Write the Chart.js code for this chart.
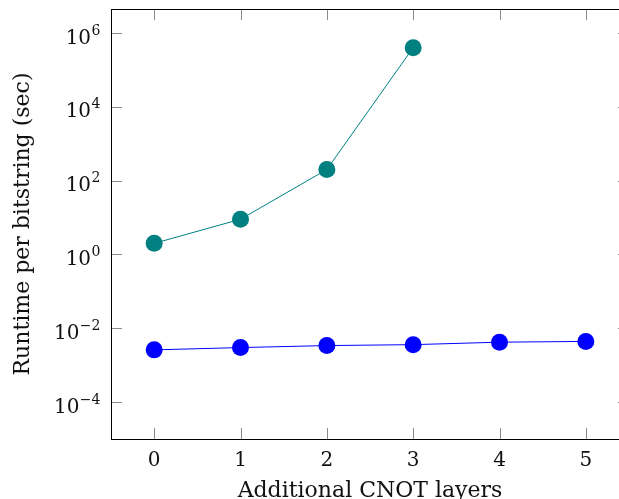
<!DOCTYPE html>
<html>
<head>
<meta charset="utf-8">
<script src="https://cdn.jsdelivr.net/npm/chart.js@4.4.0/dist/chart.umd.min.js"></script>
<style>
  html, body { margin: 0; padding: 0; overflow: hidden; background: #fff; }
  #wrap { position: absolute; left: 0; top: 0; width: 640px; height: 510px; }
</style>
</head>
<body>
<div id="wrap"><canvas id="runtimeChart" width="640" height="510"></canvas></div>
<script>
// Data
const layers = [0, 1, 2, 3, 4, 5];
const tealRuntime = [2.0, 9.0, 200, 4.0e5];
const blueRuntime = [2.6e-3, 3.0e-3, 3.4e-3, 3.6e-3, 4.2e-3, 4.4e-3];
const xTickValues = [0, 1, 2, 3, 4, 5];
const yTickExponents = [-4, -2, 0, 2, 4, 6];

const FONT = "'DejaVu Serif', serif";

function toPoints(values) {
  return values.map((v, i) => ({ x: layers[i], y: v }));
}

// pgfplots-style frame: box around plot area, inward tick marks on all sides
const framePlugin = {
  id: "frame",
  afterDraw(chart) {
    const { ctx, chartArea: a, scales } = chart;
    const tickLen = 11;
    ctx.save();
    ctx.strokeStyle = "#8c8c8c";
    ctx.lineWidth = 1;
    ctx.beginPath();
    scales.x.ticks.forEach((t) => {
      const px = Math.round(scales.x.getPixelForValue(t.value)) + 0.5;
      ctx.moveTo(px, a.bottom);
      ctx.lineTo(px, a.bottom - tickLen);
      ctx.moveTo(px, a.top);
      ctx.lineTo(px, a.top + tickLen);
    });
    scales.y.ticks.forEach((t) => {
      const py = Math.round(scales.y.getPixelForValue(t.value)) + 0.5;
      ctx.moveTo(a.left, py);
      ctx.lineTo(a.left + tickLen, py);
      ctx.moveTo(a.right, py);
      ctx.lineTo(a.right - tickLen, py);
    });
    ctx.stroke();

    ctx.strokeStyle = "#000";
    ctx.strokeRect(a.left + 0.5, a.top + 0.5, a.right - a.left, a.bottom - a.top);

    // y tick labels as 10 with a raised exponent
    ctx.fillStyle = "#111";
    ctx.textBaseline = "alphabetic";
    ctx.textAlign = "left";
    const rightEdge = a.left - 11;
    scales.y.ticks.forEach((t) => {
      const py = scales.y.getPixelForValue(t.value);
      const exp = String(Math.round(Math.log10(t.value))).replace("-", "\u2212");
      ctx.font = "14px " + FONT;
      const ew = ctx.measureText(exp).width;
      ctx.font = "20px " + FONT;
      const bw = ctx.measureText("10").width;
      const x0 = rightEdge - ew - bw;
      ctx.fillText("10", x0, py + 10.5);
      ctx.font = "14px " + FONT;
      ctx.fillText(exp, x0 + bw + 0.5, py + 1.5);
    });
    ctx.restore();
  },
};

function initChart() {
  const ctx = document.getElementById("runtimeChart").getContext("2d");
  new Chart(ctx, {
    type: "line",
    data: {
      datasets: [
        {
          label: "teal",
          data: toPoints(tealRuntime),
          borderColor: "#008080",
          backgroundColor: "#008080",
          borderWidth: 1,
          pointRadius: 8.5,
          pointBorderWidth: 0,
        },
        {
          label: "blue",
          data: toPoints(blueRuntime),
          borderColor: "#0000ff",
          backgroundColor: "#0000ff",
          borderWidth: 1,
          pointRadius: 8.5,
          pointBorderWidth: 0,
        },
      ],
    },
    options: {
      responsive: false,
      animation: false,
      devicePixelRatio: 1,
      layout: { padding: { left: 0, top: 9, right: 11, bottom: 0 } },
      plugins: {
        legend: { display: false },
        tooltip: { enabled: false },
      },
      scales: {
        x: {
          type: "linear",
          min: -0.5,
          max: 5.5,
          afterBuildTicks: (s) => {
            s.ticks = xTickValues.map((v) => ({ value: v }));
          },
          afterFit: (s) => {
            s.height = 71;
          },
          grid: { display: false },
          border: { display: false },
          ticks: {
            color: "#111",
            font: { family: FONT, size: 20 },
            padding: 2,
            maxRotation: 0,
          },
          title: {
            display: true,
            text: "Additional CNOT layers",
            color: "#111",
            font: { family: FONT, size: 22 },
            padding: { top: 0, bottom: 6 },
          },
        },
        y: {
          type: "logarithmic",
          min: 1e-5,
          max: 4.47e6,
          afterBuildTicks: (s) => {
            s.ticks = yTickExponents.map((e) => ({ value: Math.pow(10, e) }));
          },
          afterFit: (s) => {
            s.width = 111;
          },
          grid: { display: false },
          border: { display: false },
          ticks: { display: false },
          title: {
            display: true,
            text: "Runtime per bitstring (sec)",
            color: "#111",
            font: { family: FONT, size: 22 },
            padding: { top: 10, bottom: 0 },
          },
        },
      },
    },
    plugins: [framePlugin],
  });
}

window.addEventListener("DOMContentLoaded", initChart);
</script>
</body>
</html>
